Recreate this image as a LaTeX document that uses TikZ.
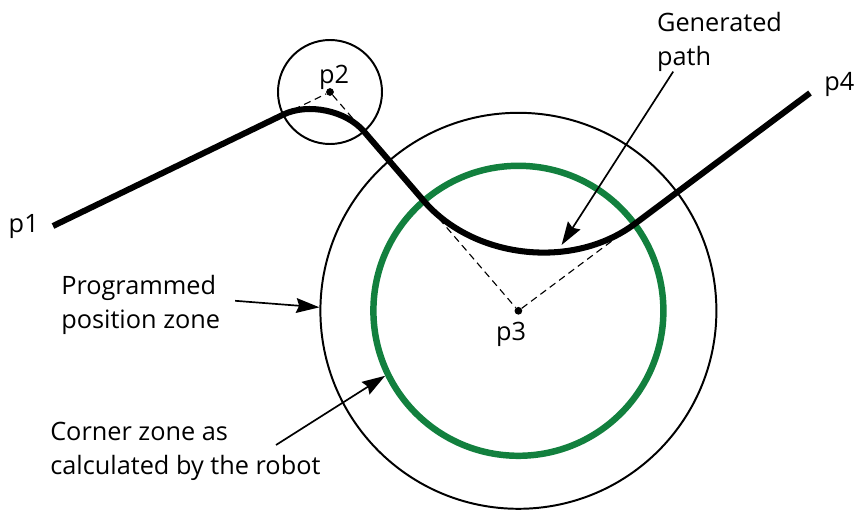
\documentclass[tikz,border=0pt]{standalone}
\usepackage{fontspec}
\setmainfont{Open Sans}
\usetikzlibrary{shapes,arrows,arrows.meta,positioning,calc}
\definecolor{zonegreen}{RGB}{18,128,62}

\begin{document}
\begin{tikzpicture}[
    dot/.style={circle, fill=black, inner sep=0pt, minimum size=5.5pt},
    lbl/.style={font=\fontsize{18}{24.2}\selectfont, inner sep=0pt},
    zone/.style={circle, draw, line width=1.4pt, inner sep=0pt},
    pointer/.style={line width=1.2pt, -{Stealth[length=16.5pt, width=10.5pt, inset=2pt]}},
    gap/.style={dash pattern=on 5pt off 3.3pt, line width=0.8pt},
    robotpath/.style={line width=4.3pt}
]
    \useasboundingbox (0,0) rectangle (21.375,12.75);

    \coordinate (p1) at (1.325,7.1);
    \node[dot] (p2) at (8.25,10.45) {};
    \node[dot] (p3) at (12.96,4.98) {};
    \coordinate (p4) at (20.25,10.425);

    \node[zone, minimum size=9.9cm] (progzone) at (p3) {};
    \node[zone, minimum size=7.25cm, draw=zonegreen, line width=4.6pt] (cornerzone) at (p3) {};
    \node[zone, minimum size=2.6cm] (smallzone) at (p2) {};

    \coordinate (a1) at ($(p2)!1.3cm!(p1)$);
    \coordinate (a2) at ($(p2)!1.3cm!(p3)$);
    \coordinate (b1) at ($(p3)!3.625cm!(p2)$);
    \coordinate (b2) at ($(p3)!3.625cm!(p4)$);

    \draw[gap] (a1) -- (p2) -- (a2);
    \draw[gap] (b1) -- (p3) -- (b2);

    \draw[robotpath] (p1) -- (a1)
        .. controls ($(a1)!0.53!(p2)$) and ($(a2)!0.53!(p2)$) .. (a2) -- (b1)
        .. controls ($(b1)!0.53!(p3)$) and ($(b2)!0.53!(p3)$) .. (b2) -- (p4);

    \node[lbl, anchor=base east] (p1lab) at (0.975,6.925) {p1};
    \node[lbl, anchor=base] (p2lab) at (8.35,10.668) {p2};
    \node[lbl, anchor=base] (p3lab) at (12.775,4.233) {p3};
    \node[lbl, anchor=base west] (p4lab) at (20.6,10.483) {p4};

    \node[lbl, anchor=north west, align=left] (genlab) at (16.42,12.44) {Generated\\path};
    \node[lbl, anchor=north west, align=left] (proglab) at (1.525,5.875) {Programmed\\position zone};
    \node[lbl, anchor=north west, align=left] (cornerlab) at (1.25,2.2) {Corner zone as\\calculated by the robot};

    \coordinate (genstart) at (16.83,10.96);
    \coordinate (genend) at (14.04,6.625);
    \coordinate (progstart) at (5.88,5.23);
    \coordinate (cornerstart) at (6.9,1.625);

    \draw[pointer] (genstart) -- (genend);
    \draw[pointer] (progstart) -- (progzone.179);
    \draw[pointer] (cornerstart) -- (cornerzone.206);
\end{tikzpicture}
\end{document}
